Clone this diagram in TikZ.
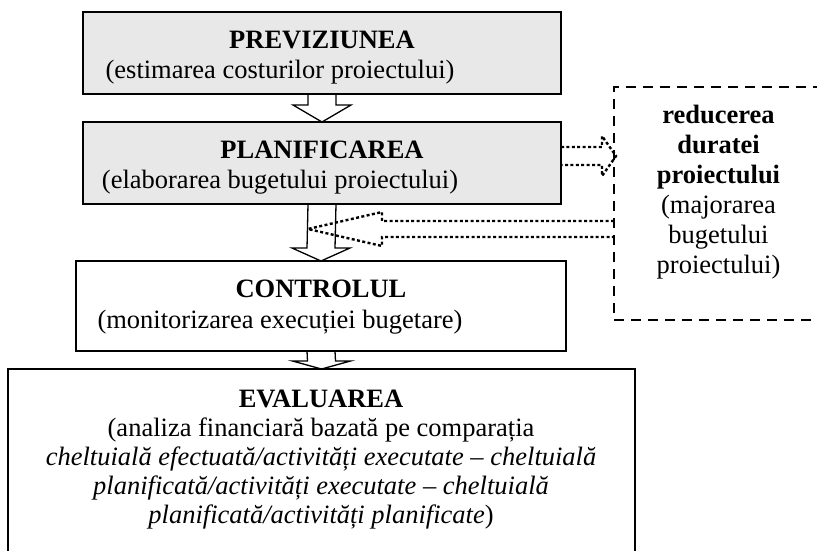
\documentclass[tikz,border=0pt]{standalone}
\usepackage{fontspec}
\setmainfont{Liberation Serif}
\usetikzlibrary{calc}
\definecolor{boxgray}{RGB}{232,232,232}
\begin{document}
\begin{tikzpicture}[x=1pt,y=-1pt,
  stage/.style={draw=black, line width=1.3pt, inner sep=0pt, outer sep=0pt},
  txt/.style={anchor=base, inner sep=0pt, font=\fontsize{26.5}{30}\selectfont},
  ttl/.style={anchor=base, inner sep=0pt, font=\fontsize{26.5}{30}\selectfont\bfseries},
  blockarr/.style={draw=black, line width=1.3pt, line join=miter},
  dotarr/.style={draw=black, line width=2.4pt, dash pattern=on 3pt off 2.4pt},
  dashbox/.style={draw=black, line width=2pt, dash pattern=on 10pt off 7pt, inner sep=0pt, outer sep=0pt}]

\useasboundingbox (0,0) rectangle (817,550);
\clip (0,0) rectangle (817,550);

% stage boxes
\node[stage, fill=boxgray, minimum width=478pt, minimum height=82pt] (prev) at (322,53) {};
\node[stage, fill=boxgray, minimum width=478pt, minimum height=82pt] (plan) at (322,163) {};
\node[stage, minimum width=490pt, minimum height=90pt] (ctrl) at (321,306) {};
\node[stage, minimum width=627pt, minimum height=200pt] (eval) at (321.5,469) {};
\node[dashbox, minimum width=209pt, minimum height=233pt] (dash) at (718.5,203.5) {};

% hollow block arrows between stages
\newcommand\stagearrow[3]{%
  \draw[blockarr] ($(#1.south)+(-14,0)$) -- ($(#2.north)+(-14,-#3)$)
    -- ($(#2.north)+(-29,-#3)$) -- (#2.north) -- ($(#2.north)+(29,-#3)$)
    -- ($(#2.north)+(14,-#3)$) -- ($(#1.south)+(14,0)$);}
\stagearrow{prev}{plan}{17}
\stagearrow{plan}{ctrl}{13}
\stagearrow{ctrl}{eval}{8}

% texts
\node[ttl] (prevT) at (322,48) {PREVIZIUNEA};
\node[txt] (prevS) at (280,78) {(estimarea costurilor proiectului)};
\node[ttl] (planT) at (322,158) {PLANIFICAREA};
\node[txt] (planS) at (280,188) {(elaborarea bugetului proiectului)};
\node[ttl] (ctrlT) at (321,297) {CONTROLUL};
\node[txt] (ctrlS) at (280,328) {(monitorizarea execuției bugetare)};
\node[ttl] (evalT) at (321,407) {EVALUAREA};
\node[txt] (evalA) at (321,436) {(analiza financiară bazată pe comparația};
\node[txt] (evalB) at (321,465) {\itshape cheltuială efectuată/activități executate – cheltuială};
\node[txt] (evalC) at (321,494) {\itshape planificată/activități executate – cheltuială};
\node[txt] (evalD) at (321,523) {\itshape planificată/activități planificate\upshape)};

\node[ttl] (d1) at (718.5,123) {reducerea};
\node[ttl] (d2) at (718.5,153) {duratei};
\node[ttl] (d3) at (718.5,183) {proiectului};
\node[txt] (d4) at (718.5,213) {(majorarea};
\node[txt] (d5) at (718.5,243) {bugetului};
\node[txt] (d6) at (718.5,273) {proiectului)};

% dotted block arrows to and from the side measure
\coordinate (fbtip) at ($(plan.south)+(-14,25)$);
\draw[dotarr] ($(plan.east)+(0,-16)$) -- ++(41,0) -- ++(0,-11)
  -- ($(dash.west)+(2,-47.5)$) -- ($(dash.west)+(-12,-27.5)$) -- ++(0,-11)
  -- ($(plan.east)+(0,2)$);
\draw[dotarr] ($(dash.west)+(0,17.5)$) -- ++(-232,0) -- ++(0,-9) -- (fbtip)
  -- ++(74,17) -- ++(0,-9) -- ($(dash.west)+(0,33.5)$);
\end{tikzpicture}
\end{document}
